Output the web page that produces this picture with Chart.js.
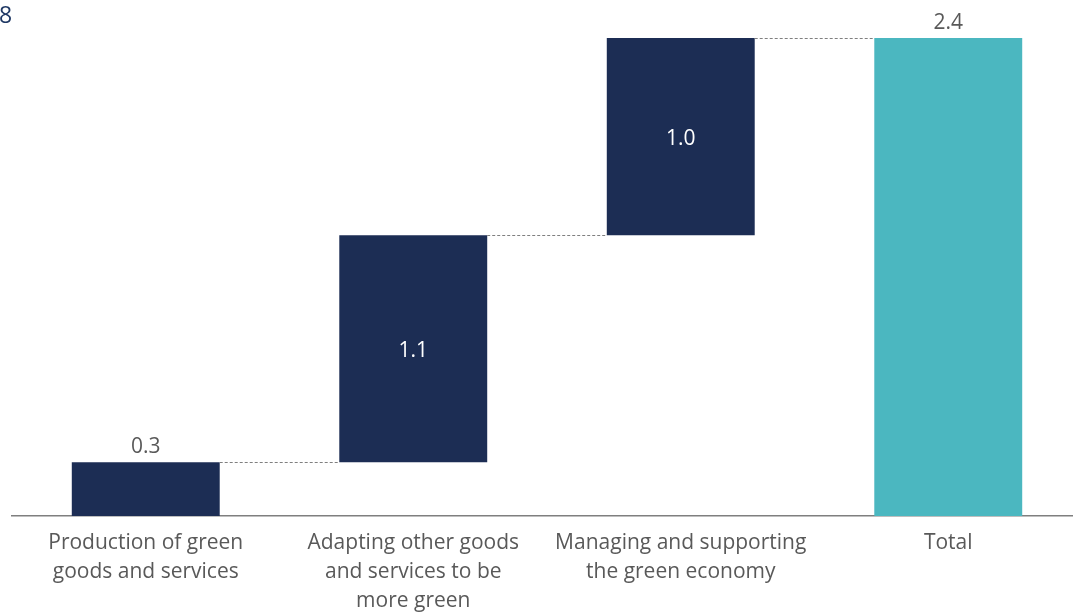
<!DOCTYPE html>
<html>
<head>
<meta charset="utf-8">
<script src="https://cdn.jsdelivr.net/npm/chart.js@4/dist/chart.umd.min.js"></script>
<style>
  html, body { margin: 0; padding: 0; background: #fff; overflow: hidden; }
  #wrap { position: relative; width: 1082px; height: 614px; }
  #corner { position: absolute; left: -1px; top: -1px; font-family: "Open Sans", sans-serif; font-size: 23px; line-height: 30px; color: #1F3864; }
</style>
</head>
<body>
<div id="wrap">
  <canvas id="c" width="1082" height="614"></canvas>
  <div id="corner">8</div>
</div>
<script>
const categories = [
  ["Production of green", "goods and services"],
  ["Adapting other goods", "and services to be", "more green"],
  ["Managing and supporting", "the green economy"],
  ["Total"]
];
const increments = [0.27, 1.14, 0.99];
const totalValue = 2.40;

const navy = "#1C2D54";
const teal = "#4BB7C0";
const textGray = "#595959";
const fontFam = "'Open Sans', sans-serif";

const ranges = [];
let cum = 0;
increments.forEach(v => { ranges.push([cum, cum + v]); cum += v; });
ranges.push([0, totalValue]);
const labelVals = increments.concat([totalValue]);

const overlay = {
  id: "overlay",
  afterDatasetsDraw(chart) {
    const ctx = chart.ctx;
    const meta = chart.getDatasetMeta(0);
    const y = chart.scales.y;
    ctx.save();
    ctx.strokeStyle = "#7F7F7F";
    ctx.lineWidth = 1;
    ctx.setLineDash([3, 2]);
    for (let i = 0; i < meta.data.length - 1; i++) {
      const a = meta.data[i], b = meta.data[i + 1];
      const yy = Math.round(y.getPixelForValue(ranges[i][1])) + 0.5;
      ctx.beginPath();
      ctx.moveTo(a.x + a.width / 2, yy);
      ctx.lineTo(b.x - b.width / 2, yy);
      ctx.stroke();
    }
    ctx.setLineDash([]);
    ctx.font = "21px " + fontFam;
    ctx.textAlign = "center";
    meta.data.forEach((bar, i) => {
      const txt = labelVals[i].toFixed(1);
      const top = y.getPixelForValue(ranges[i][1]);
      const bot = y.getPixelForValue(ranges[i][0]);
      if (i === 0 || i === meta.data.length - 1) {
        ctx.fillStyle = textGray;
        ctx.textBaseline = "alphabetic";
        ctx.fillText(txt, bar.x, top - 9);
      } else {
        ctx.fillStyle = "#FFFFFF";
        ctx.textBaseline = "middle";
        ctx.fillText(txt, bar.x, (top + bot) / 2 + 2);
      }
    });
    ctx.restore();
  }
};

new Chart(document.getElementById("c"), {
  type: "bar",
  data: {
    labels: categories,
    datasets: [{
      data: ranges,
      backgroundColor: [navy, navy, navy, teal],
      borderWidth: 0,
      barPercentage: 0.553,
      categoryPercentage: 1.0
    }]
  },
  options: {
    responsive: false,
    animation: false,
    layout: { padding: { top: 38, left: 12, right: 0, bottom: 0 } },
    plugins: { legend: { display: false }, tooltip: { enabled: false } },
    scales: {
      y: { display: false, min: 0, max: 2.4 },
      x: {
        grid: { display: false, drawTicks: false },
        border: { display: true, color: "#7F7F7F", width: 1.5 },
        ticks: {
          color: textGray,
          font: { family: fontFam, size: 21, lineHeight: 1.39 },
          padding: 12,
          maxRotation: 0,
          autoSkip: false
        },
        afterFit(scale) { scale.height = 98; }
      }
    }
  },
  plugins: [overlay]
});
</script>
</body>
</html>
